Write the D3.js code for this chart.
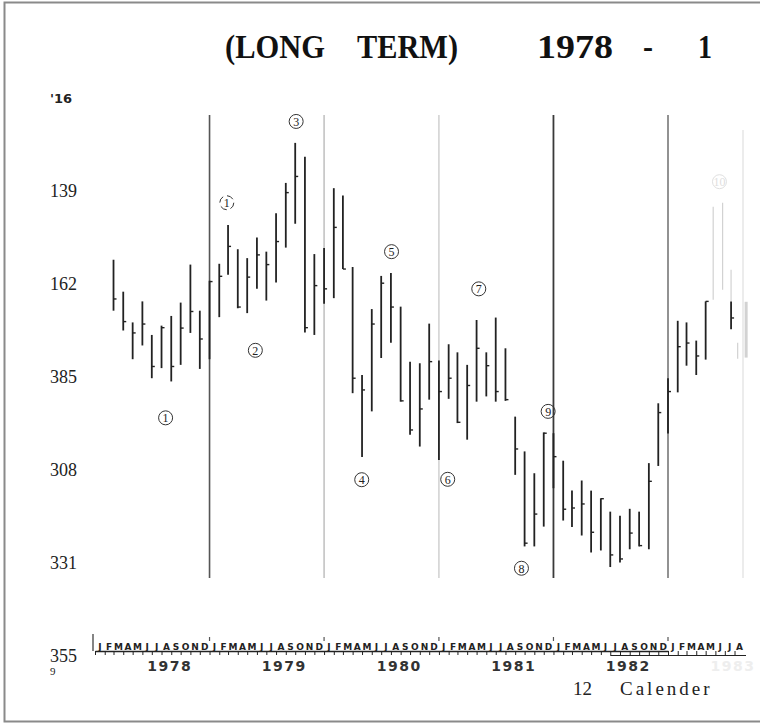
<!DOCTYPE html>
<html>
<head>
<meta charset="utf-8">
<script src="https://cdn.jsdelivr.net/npm/d3@7"></script>
<style>
  body { margin: 0; background: #fff; }
  svg { display: block; }
</style>
</head>
<body>
<div id="chart"></div>
<script>
// monthly high / low / close bars (scale runs downward)
const barTop = [156.0, 163.9, 171.5, 166.3, 174.6, 172.3, 169.9, 166.6, 157.2, 168.6,
  161.2, 157.0, 147.4, 153.4, 155.6, 150.5, 154.0, 144.5, 137.0, 127.1,
  130.5, 154.6, 153.1, 138.3, 140.1, 157.8, 184.5, 168.2, 160.0, 159.3,
  167.6, 181.2, 181.6, 171.8, 180.9, 176.9, 178.9, 182.0, 170.9, 178.9,
  170.3, 177.9, 194.8, 203.4, 208.8, 198.7, 198.9, 205.7, 213.1, 210.6,
  213.1, 215.0, 218.3, 219.3, 217.6, 218.3, 206.3, 191.5, 185.3, 171.1,
  171.5, 176.0, 166.3, 166.3];
const barBottom = [168.6, 173.5, 180.6, 177.2, 185.3, 182.8, 186.1, 182.0, 174.1, 183.0,
  180.6, 170.2, 159.7, 168.0, 169.2, 163.2, 166.1, 161.6, 153.0, 147.1,
  174.0, 174.6, 166.9, 165.5, 158.3, 189.0, 204.8, 193.5, 180.3, 176.5,
  191.1, 199.3, 202.2, 190.6, 205.5, 190.4, 196.4, 200.5, 191.1, 189.8,
  191.1, 190.9, 209.2, 226.9, 226.9, 222.0, 212.5, 220.5, 222.1, 224.2,
  228.4, 227.9, 232.0, 230.9, 227.6, 226.9, 227.6, 207.0, 199.0, 188.8,
  182.2, 184.5, 180.7, 173.2];
const barClose = [165.7, 171.3, 174.1, 171.9, 182.4, 172.8, 182.4, 172.9, 168.8, 175.6,
  161.4, 160.1, 152.7, 167.7, 160.3, 154.8, 157.2, 151.5, 139.4, 135.4,
  172.8, 162.4, 163.2, 148.0, 158.3, 185.3, 188.2, 171.9, 161.8, 167.7,
  190.9, 198.1, 192.9, 181.2, 188.6, 185.3, 196.2, 187.1, 177.9, 182.2,
  188.6, 190.6, 202.8, 226.1, 218.9, 198.9, 204.7, 217.7, 217.4, 216.4,
  223.4, 215.1, 229.0, 230.0, 223.6, 226.7, 210.8, 193.8, 188.6, 177.5,
  176.6, 179.8, 166.3, 170.4];
// bars run monthly from March 1978; the last one sits a little off the grid
const barDates = d3.timeMonth.range(new Date(1978, 2, 1), new Date(1983, 5, 1))
  .concat([new Date(1983, 6, 21)]);

// faded marks at the right edge of the scan
const ghostDates = ["1983-05-25", "1983-06-24", "1983-07-21", "1983-08-11", "1983-09-07"];
const ghostTop = [142.9, 141.9, 158.5, 176.5, 166.4];
const ghostBottom = [165.9, 163.4, 166.3, 180.5, 180.2];

// y axis, labels exactly as printed
const yTicks = [116, 139, 162, 185, 208, 231, 254];
const yLabels = ["'16", "139", "162", "385", "308", "331", "355"];

const yearLineYears = [1979, 1980, 1981, 1982, 1983];
const yearLabels = ["1978", "1979", "1980", "1981", "1982", "1983"];
const monthLetters = "JFMAMJJASOND".split("");

// circled wave counts
const annoText = ["1", "1", "2", "3", "4", "5", "6", "7", "8", "9", "10"];
const annoDates = ["1978-08-14", "1979-02-25", "1979-05-27", "1979-10-04", "1980-04-30",
  "1980-08-03", "1981-01-29", "1981-05-08", "1981-09-21", "1981-12-15", "1983-06-14"];
const annoValues = [195.1, 141.9, 178.4, 121.8, 210.4, 154.0, 210.3, 163.2, 232.3, 193.5, 136.7];

const W = 760, H = 724;
const plotTop = 115, plotBottom = 578;
const parse = d3.timeParse("%Y-%m-%d");

const svg = d3.select("#chart").append("svg")
  .attr("width", W)
  .attr("height", H);

const x = d3.scaleTime()
  .domain([new Date(1978, 0, 1), new Date(1983, 0, 1)])
  .range([95, 668]);

const y = d3.scaleLinear()
  .domain([116, 254])
  .range([98, 656]);

// frame of the scanned page
svg.append("path")
  .attr("d", `M${W},2.5 H4.5 V721.5 H${W}`)
  .attr("fill", "none")
  .attr("stroke", "#8a8a8a")
  .attr("stroke-width", 2);

// title, pieces spaced as on the page
const titleParts = [
  {t: "(LONG", x: 225, w: 100},
  {t: "TERM)", x: 357, w: 101},
  {t: "1978", x: 537, w: 76},
  {t: "-", x: 643, w: 10},
  {t: "1", x: 698, w: 14}
];
svg.append("g").selectAll("text")
  .data(titleParts)
  .join("text")
  .attr("x", d => d.x)
  .attr("y", 58)
  .attr("textLength", d => d.w)
  .attr("lengthAdjust", "spacingAndGlyphs")
  .attr("font-family", "'Liberation Serif', serif")
  .attr("font-weight", "bold")
  .attr("font-size", 34)
  .attr("fill", "#111")
  .text(d => d.t);

// faint scan edge on the right
svg.append("line")
  .attr("x1", 743).attr("x2", 743)
  .attr("y1", 130).attr("y2", plotBottom)
  .attr("stroke", "#e6e6e6").attr("stroke-width", 1.5);

// year separators
const lineColor = ["#555", "#b5b5b5", "#c4c4c4", "#3a3a3a", "#777"];
const lineWidth = [1.6, 1.3, 1.2, 1.8, 1.6];
svg.append("g").selectAll("line")
  .data(yearLineYears)
  .join("line")
  .attr("x1", d => x(new Date(d, 0, 1)))
  .attr("x2", d => x(new Date(d, 0, 1)))
  .attr("y1", plotTop)
  .attr("y2", plotBottom)
  .attr("stroke", (d, i) => lineColor[i])
  .attr("stroke-width", (d, i) => lineWidth[i]);

// faded right edge marks
svg.append("g").selectAll("line")
  .data(ghostDates)
  .join("line")
  .attr("x1", d => x(parse(d)))
  .attr("x2", d => x(parse(d)))
  .attr("y1", (d, i) => y(ghostTop[i]))
  .attr("y2", (d, i) => y(ghostBottom[i]))
  .attr("stroke", "#d2d2d2")
  .attr("stroke-width", (d, i) => i === 4 ? 3 : 1.2);

// price bars
const bars = barDates.map((d, i) => ({date: d, top: barTop[i], bottom: barBottom[i], close: barClose[i]}));
const gBars = svg.append("g");
gBars.selectAll("line.bar")
  .data(bars)
  .join("line")
  .attr("class", "bar")
  .attr("x1", d => x(d.date))
  .attr("x2", d => x(d.date))
  .attr("y1", d => y(d.top))
  .attr("y2", d => y(d.bottom))
  .attr("stroke", "#222")
  .attr("stroke-width", 1.8);
gBars.selectAll("line.close")
  .data(bars)
  .join("line")
  .attr("class", "close")
  .attr("x1", d => x(d.date))
  .attr("x2", d => x(d.date) + 3)
  .attr("y1", d => y(d.close))
  .attr("y2", d => y(d.close))
  .attr("stroke", "#222")
  .attr("stroke-width", 1.4);

// circled counts
const annos = annoText.map((t, i) => ({t: t, date: parse(annoDates[i]), v: annoValues[i], i: i}));
const gA = svg.append("g").selectAll("g")
  .data(annos)
  .join("g")
  .attr("transform", d => `translate(${x(d.date)},${y(d.v)})`)
  .attr("opacity", d => d.i === 10 ? 0.15 : 1);
gA.append("circle")
  .attr("r", 7)
  .attr("fill", "none")
  .attr("stroke", "#333")
  .attr("stroke-width", 1)
  .attr("stroke-dasharray", d => d.i === 1 ? "7 4" : null);
gA.append("text")
  .attr("text-anchor", "middle")
  .attr("dy", "0.36em")
  .attr("font-family", "'Liberation Serif', serif")
  .attr("font-size", 12)
  .attr("fill", "#222")
  .text(d => d.t);

// y axis
const yAxis = svg.append("g")
  .attr("transform", "translate(50,0)")
  .call(d3.axisLeft(y).tickValues(yTicks).tickSize(0).tickFormat((d, i) => yLabels[i]));
yAxis.select(".domain").remove();
yAxis.selectAll("text")
  .attr("x", 0)
  .attr("text-anchor", "start")
  .attr("fill", "#222")
  .attr("font-family", (d, i) => i === 0 ? "'DejaVu Sans', sans-serif" : "'Liberation Serif', serif")
  .attr("font-weight", (d, i) => i === 0 ? "bold" : "normal")
  .attr("font-size", (d, i) => i === 0 ? 13 : 18);
svg.append("text")
  .attr("x", 50)
  .attr("y", 675)
  .attr("font-family", "'Liberation Serif', serif")
  .attr("font-size", 11)
  .attr("fill", "#222")
  .text("9");

// month calendar strip
const stripY = 651;
const months = d3.timeMonth.range(new Date(1978, 0, 1), new Date(1983, 8, 1));
const mAxis = svg.append("g")
  .attr("transform", `translate(0,${stripY})`)
  .call(d3.axisBottom(x).tickValues(months).tickSize(4).tickSizeOuter(0).tickFormat(""));
mAxis.select(".domain").attr("stroke", "#222").attr("stroke-width", 1.4);
mAxis.selectAll(".tick line").attr("stroke", "#222").attr("stroke-width", 1);
svg.append("g").selectAll("text")
  .data(months)
  .join("text")
  .attr("x", d => (x(d) + x(d3.timeMonth.offset(d, 1))) / 2)
  .attr("y", stripY - 1)
  .attr("text-anchor", "middle")
  .attr("font-family", "'DejaVu Sans', sans-serif")
  .attr("font-weight", "bold")
  .attr("font-size", 9)
  .attr("fill", "#222")
  .text(d => monthLetters[d.getMonth()]);
svg.append("line")
  .attr("x1", x(new Date(1982, 6, 1))).attr("x2", 746)
  .attr("y1", stripY + 4.5).attr("y2", stripY + 4.5)
  .attr("stroke", "#222").attr("stroke-width", 1.2);
svg.append("line")
  .attr("x1", 93).attr("x2", 93)
  .attr("y1", 634).attr("y2", stripY)
  .attr("stroke", "#333").attr("stroke-width", 1.2);
svg.append("g").selectAll("line")
  .data(yearLineYears)
  .join("line")
  .attr("x1", d => x(new Date(d, 0, 1)))
  .attr("x2", d => x(new Date(d, 0, 1)))
  .attr("y1", 637).attr("y2", 641)
  .attr("stroke", "#555").attr("stroke-width", 1.2);

// year names under the strip; the last one is almost faded out on the scan
svg.append("g").selectAll("text")
  .data(yearLabels)
  .join("text")
  .attr("x", (d, i) => i === 5 ? 733 : x(new Date(+d, 6, 1)) + 18)
  .attr("y", 671)
  .attr("text-anchor", "middle")
  .attr("font-family", "'DejaVu Sans', sans-serif")
  .attr("font-weight", "bold")
  .attr("font-size", 14)
  .attr("letter-spacing", 1.5)
  .attr("fill", (d, i) => i === 5 ? "#eee" : "#333")
  .text(d => d);

// axis caption
svg.append("text")
  .attr("x", 573)
  .attr("y", 695)
  .attr("font-family", "'Liberation Serif', serif")
  .attr("font-size", 19)
  .attr("fill", "#222")
  .text("12");
svg.append("text")
  .attr("x", 620)
  .attr("y", 695)
  .attr("font-family", "'Liberation Serif', serif")
  .attr("font-size", 19)
  .attr("letter-spacing", 3)
  .attr("fill", "#222")
  .text("Calender");
</script>
</body>
</html>
